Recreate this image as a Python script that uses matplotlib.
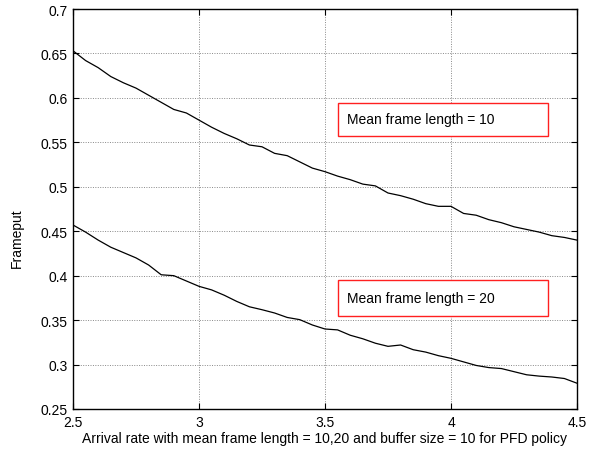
import matplotlib
matplotlib.use("Agg")
import matplotlib.pyplot as plt
from matplotlib.patches import Rectangle
import numpy as np

plt.rcParams['font.family'] = ['Liberation Sans', 'DejaVu Sans']

arrival_rate = [2.50, 2.55, 2.60, 2.65, 2.70, 2.75, 2.80, 2.85, 2.90, 2.95,
                3.00, 3.05, 3.10, 3.15, 3.20, 3.25, 3.30, 3.35, 3.40, 3.45,
                3.50, 3.55, 3.60, 3.65, 3.70, 3.75, 3.80, 3.85, 3.90, 3.95,
                4.00, 4.05, 4.10, 4.15, 4.20, 4.25, 4.30, 4.35, 4.40, 4.45, 4.50]

frameput_len10 = [0.653, 0.642, 0.634, 0.624, 0.617, 0.611, 0.603, 0.595, 0.587, 0.583,
                  0.575, 0.567, 0.560, 0.554, 0.547, 0.545, 0.5376, 0.535, 0.528, 0.521,
                  0.517, 0.512, 0.508, 0.503, 0.501, 0.493, 0.490, 0.486, 0.481, 0.478,
                  0.478, 0.470, 0.468, 0.463, 0.4596, 0.455, 0.452, 0.449, 0.445, 0.443, 0.440]

frameput_len20 = [0.457, 0.449, 0.440, 0.432, 0.426, 0.420, 0.412, 0.401, 0.400, 0.394,
                  0.388, 0.384, 0.378, 0.371, 0.365, 0.3617, 0.358, 0.353, 0.3505, 0.3445,
                  0.340, 0.339, 0.333, 0.329, 0.324, 0.3205, 0.322, 0.3167, 0.314, 0.310,
                  0.307, 0.303, 0.299, 0.2966, 0.2955, 0.292, 0.2885, 0.287, 0.286, 0.2843, 0.279]

x_ticks = [2.5, 3, 3.5, 4, 4.5]
x_tick_labels = ['2.5', '3', '3.5', '4', '4.5']
y_ticks = [0.25, 0.3, 0.35, 0.4, 0.45, 0.5, 0.55, 0.6, 0.65, 0.7]
y_tick_labels = ['0.25', '0.3', '0.35', '0.4', '0.45', '0.5', '0.55', '0.6', '0.65', '0.7']

annotations = ['Mean frame length = 10', 'Mean frame length = 20']

fig = plt.figure(figsize=(5.92, 4.52), dpi=100)
ax = fig.add_axes([73/592, 42/452, (577-73)/592, (410-10)/452])

ax.plot(arrival_rate, frameput_len10, color='black', linewidth=0.9)
ax.plot(arrival_rate, frameput_len20, color='black', linewidth=0.9)

ax.set_xlim(2.5, 4.5)
ax.set_ylim(0.25, 0.7)
ax.set_xticks(x_ticks)
ax.set_xticklabels(x_tick_labels)
ax.set_yticks(y_ticks)
ax.set_yticklabels(y_tick_labels)

ax.tick_params(direction='in', length=4, width=0.8, top=True, right=True,
               labelsize=10, pad=4, colors='black')
ax.grid(True, color='#888888', linestyle=(0, (1, 1.5)), linewidth=0.7)
for s in ax.spines.values():
    s.set_linewidth(1.0)
    s.set_color('black')

ax.set_xlabel('Arrival rate with mean frame length = 10,20 and buffer size = 10 for PFD policy',
              fontsize=10, labelpad=2)
ax.set_ylabel('Frameput', fontsize=10)
ax.yaxis.set_label_coords(-0.098, 0.43)

# annotation boxes
box_x0, box_x1 = 3.5516, 4.3857
boxes_y = [(0.5568, 0.5946), (0.3543, 0.3951)]
text_y = [0.5757, 0.3749]
for (y0, y1), ty, label in zip(boxes_y, text_y, annotations):
    ax.add_patch(Rectangle((box_x0, y0), box_x1 - box_x0, y1 - y0,
                           facecolor='white', edgecolor='#ff2020', linewidth=1.0, zorder=3))
    ax.text(3.586, ty, label, fontsize=10, va='center', ha='left', zorder=4)

fig.savefig('out.png', dpi=100)
